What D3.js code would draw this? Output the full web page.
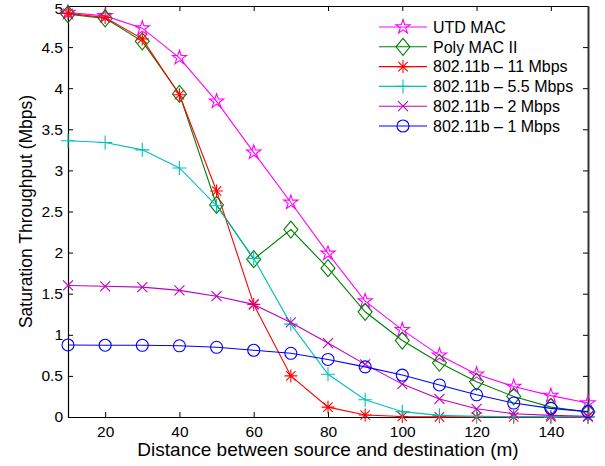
<!DOCTYPE html>
<html>
<head>
<meta charset="utf-8">
<script src="https://cdn.jsdelivr.net/npm/d3@7"></script>
<style>
  html, body { margin: 0; padding: 0; background: #fff; }
  svg { display: block; font-family: "Liberation Sans", Arial, Helvetica, sans-serif; }
</style>
</head>
<body>
<svg id="chart" width="605" height="466"></svg>
<script>
// Distance between source and destination (m)
const distances = [10, 20, 30, 40, 50, 60, 70, 80, 90, 100, 110, 120, 130, 140, 150];

// Saturation throughput (Mbps) for each scheme
const utdMac      = [4.92, 4.88, 4.73, 4.37, 3.84, 3.22, 2.61, 1.99, 1.41, 1.06, 0.75, 0.52, 0.37, 0.26, 0.17];
const polyMac2    = [4.90, 4.85, 4.57, 3.93, 2.58, 1.92, 2.28, 1.81, 1.28, 0.93, 0.66, 0.43, 0.25, 0.12, 0.06];
const b11Mbps     = [4.91, 4.86, 4.60, 3.92, 2.75, 1.37, 0.50, 0.12, 0.024, 0.006, 0.002, 0.001, 0, 0, 0];
const b55Mbps     = [3.36, 3.34, 3.25, 3.03, 2.57, 1.93, 1.13, 0.52, 0.21, 0.065, 0.02, 0.008, 0.004, 0.002, 0.001];
const b2Mbps      = [1.60, 1.59, 1.58, 1.54, 1.47, 1.37, 1.15, 0.90, 0.64, 0.40, 0.22, 0.10, 0.04, 0.02, 0.01];
const b1Mbps      = [0.876, 0.873, 0.872, 0.866, 0.848, 0.812, 0.775, 0.70, 0.61, 0.51, 0.39, 0.27, 0.17, 0.105, 0.065];

const seriesNames = ["UTD MAC", "Poly MAC II", "802.11b \u2013 11 Mbps", "802.11b \u2013 5.5 Mbps", "802.11b \u2013 2 Mbps", "802.11b \u2013 1 Mbps"];
const seriesValues = [utdMac, polyMac2, b11Mbps, b55Mbps, b2Mbps, b1Mbps];
const seriesColors = ["#ff00ff", "#008000", "#ff0000", "#00bfbf", "#bf00bf", "#0000ff"];
const seriesMarkers = ["star", "diamond", "asterisk", "plus", "cross", "circle"];

const xTicks = [20, 40, 60, 80, 100, 120, 140];
const yTicks = [0, 0.5, 1, 1.5, 2, 2.5, 3, 3.5, 4, 4.5, 5];

const svg = d3.select("#chart");
const margin = { left: 68, right: 17, top: 6, bottom: 49 };
const W = 605, H = 466;
const x = d3.scaleLinear().domain([10, 150]).range([margin.left, W - margin.right]);
const y = d3.scaleLinear().domain([0, 5]).range([H - margin.bottom, margin.top]);

// clip lines to the plotting box
svg.append("defs").append("clipPath").attr("id", "plotClip")
  .append("rect")
  .attr("x", x(10) - 10).attr("y", y(5) - 10)
  .attr("width", x(150) - x(10) + 20).attr("height", y(0) - y(5) + 20);

// Marker shapes, drawn around (0,0)
function markerPath(type) {
  const p = d3.path();
  if (type === "star") {
    const R = 7.5, r = R * 0.382;
    for (let i = 0; i < 10; i++) {
      const rad = i % 2 === 0 ? R : r;
      const a = -Math.PI / 2 + i * Math.PI / 5;
      const px = rad * Math.cos(a), py = rad * Math.sin(a);
      if (i === 0) p.moveTo(px, py); else p.lineTo(px, py);
    }
    p.closePath();
  } else if (type === "diamond") {
    p.moveTo(0, -8.5); p.lineTo(7, 0); p.lineTo(0, 8.5); p.lineTo(-7, 0); p.closePath();
  } else if (type === "asterisk") {
    const s = 6.5, d = s * 0.72;
    p.moveTo(-s, 0); p.lineTo(s, 0);
    p.moveTo(0, -s); p.lineTo(0, s);
    p.moveTo(-d, -d); p.lineTo(d, d);
    p.moveTo(-d, d); p.lineTo(d, -d);
  } else if (type === "plus") {
    const s = 7;
    p.moveTo(-s, 0); p.lineTo(s, 0);
    p.moveTo(0, -s); p.lineTo(0, s);
  } else if (type === "cross") {
    const s = 5;
    p.moveTo(-s, -s); p.lineTo(s, s);
    p.moveTo(-s, s); p.lineTo(s, -s);
  } else if (type === "circle") {
    p.arc(0, 0, 6, 0, 2 * Math.PI);
  }
  return p.toString();
}

// Axes box with inward ticks on all four sides
const axisG = svg.append("g").attr("class", "axes");
const tickLen = 5;

const bottomAxis = d3.axisBottom(x).tickValues(xTicks).tickSizeInner(-tickLen).tickSizeOuter(0).tickPadding(9).tickFormat(d3.format("d"));
const topAxis = d3.axisTop(x).tickValues(xTicks).tickSizeInner(-tickLen).tickSizeOuter(0).tickFormat("");
const leftAxis = d3.axisLeft(y).tickValues(yTicks).tickSizeInner(-tickLen).tickSizeOuter(0).tickPadding(5).tickFormat(d => d3.format("")(d));
const rightAxis = d3.axisRight(y).tickValues(yTicks).tickSizeInner(-tickLen).tickSizeOuter(0).tickFormat("");

const gB = axisG.append("g").attr("transform", `translate(0,${y(0)})`).call(bottomAxis);
const gT = axisG.append("g").attr("transform", `translate(0,${y(5)})`).call(topAxis);
const gL = axisG.append("g").attr("transform", `translate(${x(10)},0)`).call(leftAxis);
const gR = axisG.append("g").attr("transform", `translate(${x(150)},0)`).call(rightAxis);

[gB, gT, gL, gR].forEach(g => {
  g.select(".domain").attr("stroke", "#000").attr("stroke-width", 1.2);
  g.selectAll(".tick line").attr("stroke", "#000").attr("stroke-width", 1);
  g.selectAll(".tick text").attr("fill", "#000").attr("font-size", 15.5)
    .attr("font-family", "'Liberation Sans', Arial, sans-serif");
});
// keep the top "5" label inside the page
gL.selectAll(".tick text").filter(d => d === 5).attr("dy", "0.5em");
gR.select(".domain").attr("stroke", "#333").attr("stroke-width", 2);

// Data series
const lineGen = d3.line().x((d, i) => x(distances[i])).y(d => y(d));
const plot = svg.append("g").attr("clip-path", "url(#plotClip)");

seriesValues.forEach((vals, si) => {
  const g = plot.append("g");
  g.append("path")
    .datum(vals)
    .attr("d", lineGen)
    .attr("fill", "none")
    .attr("stroke", seriesColors[si])
    .attr("stroke-width", 1.1);
  g.selectAll("path.marker")
    .data(vals)
    .enter().append("path")
    .attr("class", "marker")
    .attr("transform", (d, i) => `translate(${x(distances[i])},${y(d)})`)
    .attr("d", markerPath(seriesMarkers[si]))
    .attr("fill", "none")
    .attr("stroke", seriesColors[si])
    .attr("stroke-width", 1.1);
});

// Legend
const legend = svg.append("g").attr("class", "legend");
const legX0 = 379, legX1 = 427, legTextX = 433, legY0 = 27, legStep = 19.8;
seriesNames.forEach((name, si) => {
  const yy = legY0 + si * legStep;
  legend.append("line")
    .attr("x1", legX0).attr("x2", legX1).attr("y1", yy).attr("y2", yy)
    .attr("stroke", seriesColors[si]).attr("stroke-width", 1.1);
  legend.append("path")
    .attr("transform", `translate(${(legX0 + legX1) / 2},${yy})`)
    .attr("d", markerPath(seriesMarkers[si]))
    .attr("fill", "none").attr("stroke", seriesColors[si]).attr("stroke-width", 1.1);
  legend.append("text")
    .attr("x", legTextX).attr("y", yy)
    .attr("dy", "0.36em")
    .attr("font-size", 16)
    .attr("fill", "#000")
    .text(name);
});

// Axis titles
svg.append("text")
  .attr("x", (x(10) + x(150)) / 2)
  .attr("y", 456)
  .attr("text-anchor", "middle")
  .attr("font-size", 19)
  .attr("fill", "#000")
  .text("Distance between source and destination (m)");

svg.append("text")
  .attr("transform", `translate(32,${(y(0) + y(5)) / 2}) rotate(-90)`)
  .attr("text-anchor", "middle")
  .attr("font-size", 17.5)
  .attr("fill", "#000")
  .text("Saturation Throughput (Mbps)");
</script>
</body>
</html>
